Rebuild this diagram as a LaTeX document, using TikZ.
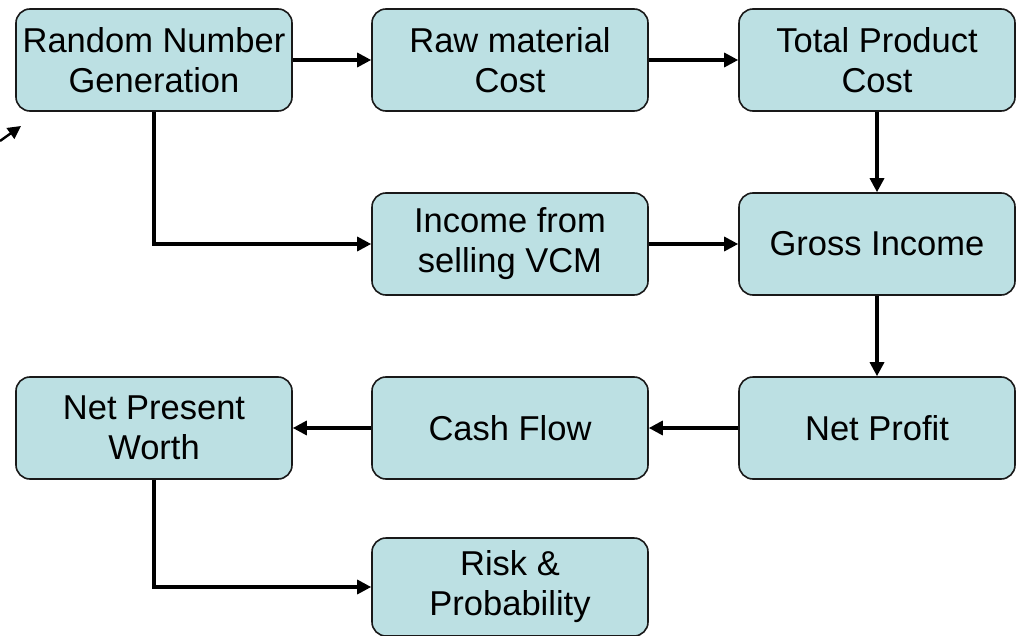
\documentclass[tikz,border=0pt]{standalone}
\usepackage{fontspec}
\setmainfont{Liberation Sans}
\usetikzlibrary{arrows.meta}
\definecolor{boxfill}{RGB}{188,224,227}
\definecolor{boxline}{RGB}{25,25,25}
\begin{document}
\begin{tikzpicture}[x=1pt,y=-1pt,
  flowbox/.style={draw=boxline, line width=1.6pt, fill=boxfill, rounded corners=14pt,
    minimum width=276pt, minimum height=102pt, align=center, inner sep=0pt,
    font=\fontsize{34.5}{40}\selectfont},
  flow/.style={line width=3.2pt, -{Triangle[length=14pt,width=14pt]}}]
\useasboundingbox (0,0) rectangle (1016,636);
% top row
\node[flowbox] (rng)   at (154,60)  {Random Number\\Generation};
\node[flowbox] (raw)   at (510,60)  {Raw material\\Cost};
\node[flowbox] (tpc)   at (877,60)  {Total Product\\Cost};
% second row
\node[flowbox] (inc)   at (510,244) {Income from\\selling VCM};
\node[flowbox] (gross) at (877,244) {Gross Income};
% third row
\node[flowbox] (npw)   at (154,428) {Net Present\\Worth};
\node[flowbox] (cash)  at (510,428) {Cash Flow};
\node[flowbox] (net)   at (877,428) {Net Profit};
% bottom row
\node[flowbox, minimum height=98pt] (risk) at (510,587) {Risk \&\\Probability};
% connectors
\draw[flow] (rng.east) -- (raw.west);
\draw[flow] (raw.east) -- (tpc.west);
\draw[flow] (tpc.south) -- (gross.north);
\draw[flow] (rng.south) |- (inc.west);
\draw[flow] (inc.east) -- (gross.west);
\draw[flow] (gross.south) -- (net.north);
\draw[flow] (net.west) -- (cash.east);
\draw[flow] (cash.west) -- (npw.east);
\draw[flow] (npw.south) |- (risk.west);
% short pointer entering from the left edge
\coordinate (ptail) at (0,141);
\coordinate (phead) at (21,126);
\draw[line width=2.4pt, -{Triangle[length=13pt,width=13pt]}] (ptail) -- (phead);
\end{tikzpicture}
\end{document}
